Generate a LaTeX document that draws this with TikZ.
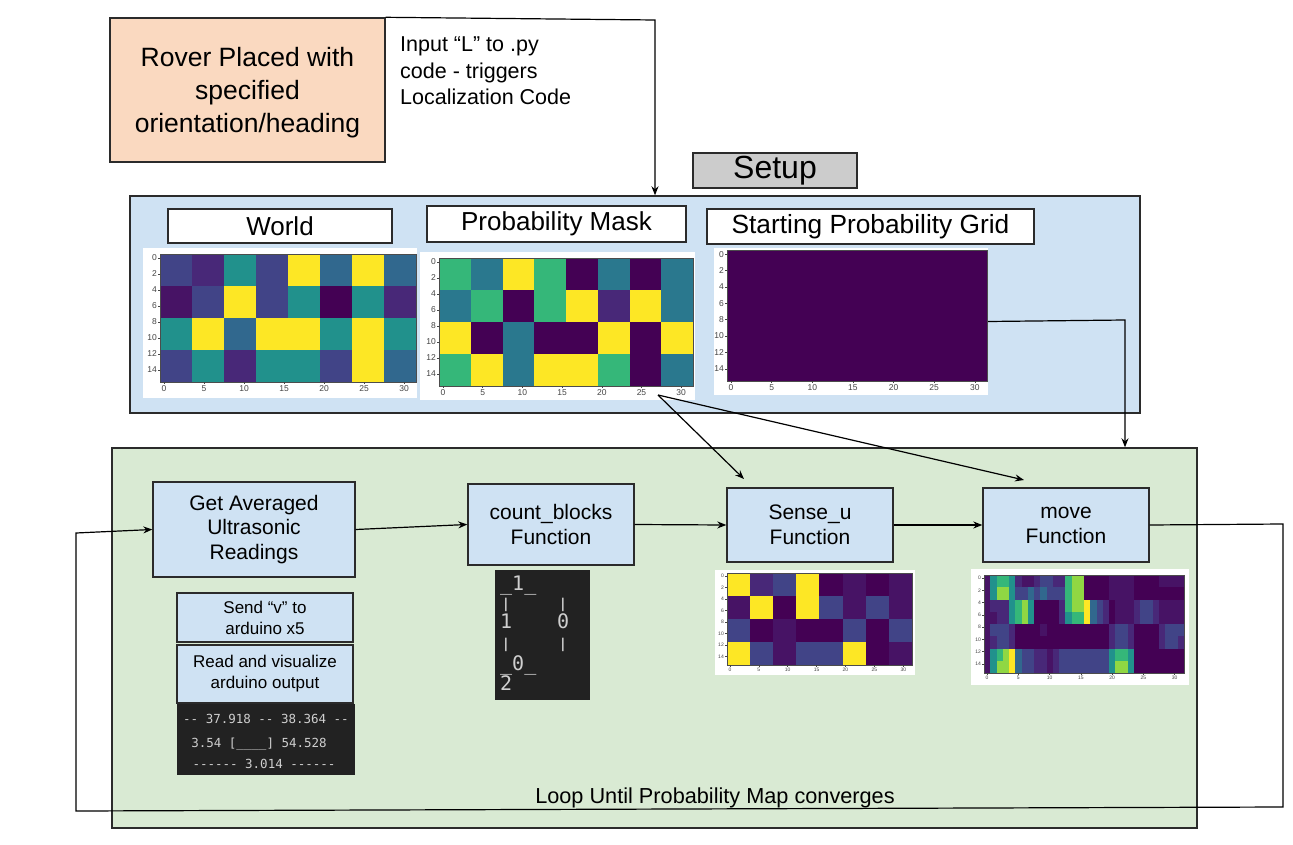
\documentclass[tikz,border=0pt]{standalone}
\usepackage{fontspec}
\setmainfont{Liberation Sans}
\newfontfamily\monofont{DejaVu Sans Mono}
\usetikzlibrary{arrows.meta}
\definecolor{vA}{HTML}{440154}
\definecolor{vB}{HTML}{471365}
\definecolor{vC}{HTML}{482878}
\definecolor{vD}{HTML}{414487}
\definecolor{vE}{HTML}{31688E}
\definecolor{vT}{HTML}{2A788E}
\definecolor{vF}{HTML}{21918C}
\definecolor{vG}{HTML}{35B779}
\definecolor{vH}{HTML}{90D743}
\definecolor{vY}{HTML}{FDE725}
\definecolor{peach}{HTML}{FAD9C0}
\definecolor{bluebg}{HTML}{CFE2F3}
\definecolor{greenbg}{HTML}{D9EAD3}
\definecolor{setupgray}{HTML}{CCCCCC}
\definecolor{bordc}{HTML}{2B2B2B}
\definecolor{termbg}{HTML}{222222}
\definecolor{termtxt}{HTML}{CFCFCF}
\definecolor{tickc}{HTML}{444444}
\newcommand\fsz[2]{\fontsize{#1}{#2}\selectfont}
\newcommand\us{\char"5F\relax}
% heat map: x0, y0, unit x, unit y, cell units wide, cell units tall, rows
\newcommand\hmap[7]{%
  \foreach \row [count=\j from 0] in {#7}{%
    \foreach \cc [count=\i from 0] in \row {%
      \edef\hcol{v\cc}%
      \fill[fill=\hcol] ({#1+\i*#5*#3},{#2+\j*#6*#4}) rectangle ++({#5*#3+0.3},{#6*#4+0.3});
    }%
  }%
  \draw[line width=0.4pt, black!70] (#1,#2) rectangle ++({32*#3},{16*#4});
}
% ticks: prefix, x0, y0, unit x, unit y, font size
\newcommand\hticks[6]{%
  \foreach \tk in {0,2,...,14}{%
    \draw[tickc, line width=0.4pt] ({#2},{#3+(\tk+0.5)*#5}) -- ++(-2,0);
    \node[tickc, font=\fsz{#6}{#6}, anchor=east, inner sep=0.5pt] (#1y\tk) at ({#2-2.5},{#3+(\tk+0.5)*#5}) {\tk};
  }%
  \foreach \tk in {0,5,...,30}{%
    \draw[tickc, line width=0.4pt] ({#2+(\tk+0.5)*#4},{#3+16*#5}) -- ++(0,2);
    \node[tickc, font=\fsz{#6}{#6}, anchor=north, inner sep=0.5pt] (#1x\tk) at ({#2+(\tk+0.5)*#4},{#3+16*#5+2.5}) {\tk};
  }%
}
\begin{document}
\begin{tikzpicture}[x=1pt,y=-1pt,
  box/.style={draw=bordc, line width=1.4pt, inner sep=0pt, align=center},
  imgbg/.style={fill=white, inner sep=0pt},
  arr/.style={-{Stealth[length=9pt,width=7pt]}, line width=1.2pt, black},
  term/.style={fill=termbg, inner sep=0pt},
  ttxt/.style={termtxt, inner sep=0pt, font=\monofont\fsz{20}{20}},
  tbar/.style={termtxt, inner sep=0pt, font=\monofont\bfseries\fsz{13.5}{14}},
  atxt/.style={termtxt, inner sep=0pt, font=\monofont\fsz{12.5}{14}, anchor=base}]
\useasboundingbox[fill=white] (0,0) rectangle (1293,845);

% ---------- top ----------
\node[box, fill=peach, minimum width=275, minimum height=144] (rover) at (247.5,90) {};
\node[align=center, inner sep=0pt, font=\fsz{26.5}{33}] (rovertxt) at (247.5,93) {Rover Placed with\\specified\\orientation/heading};
\node[anchor=north west, align=left, inner sep=0pt, font=\fsz{21.5}{26.5}] (input) at (400,37) {Input “L” to .py\\code - triggers\\Localization Code};
\node[box, fill=setupgray, minimum width=164, minimum height=35, font=\fsz{32}{36}] (setup) at (775,170.5) {Setup};

% ---------- setup panel ----------
\node[box, fill=bluebg, minimum width=1010, minimum height=217] (setupbox) at (635,304.5) {};
\node[box, fill=white, minimum width=224, minimum height=34, font=\fsz{26}{30}] (worldt) at (280,226) {World};
\node[box, fill=white, minimum width=259, minimum height=36, font=\fsz{26}{30}] (maskt) at (556.5,224) {Probability Mask};
\node[box, fill=white, minimum width=327, minimum height=35, font=\fsz{26.3}{30}] (startt) at (870.5,226.5) {Starting Probability Grid};

\node[imgbg, minimum width=274, minimum height=150] (worldimg) at (280,323) {};
\node[imgbg, minimum width=275, minimum height=148] (maskimg) at (557.5,326) {};
\node[imgbg, minimum width=274, minimum height=147] (startimg) at (851,321.5) {};

\hmap{160}{254}{8}{8}{4}{4}{{D,C,F,D,Y,E,Y,E},{B,D,Y,D,F,A,F,C},{F,Y,E,Y,Y,F,Y,F},{D,F,C,F,F,D,Y,E}}
\hticks{w}{160}{254}{8}{8}{8.5}
\hmap{439}{258}{7.94}{8}{4}{4}{{G,T,Y,G,A,T,A,T},{T,G,A,G,Y,C,Y,T},{Y,A,T,A,A,Y,A,Y},{G,Y,T,Y,Y,G,A,T}}
\hticks{m}{439}{258}{7.94}{8}{8.5}
\hmap{727}{250}{8.125}{8.19}{32}{16}{{A}}
\hticks{s}{727}{250}{8.125}{8.19}{8.5}

% ---------- loop panel ----------
\node[box, fill=greenbg, minimum width=1085, minimum height=380] (greenbox) at (654.5,638) {};
\node[box, fill=bluebg, minimum width=202, minimum height=95, font=\fsz{21}{24.5}] (ultra) at (254,529.5) {Get Averaged\\Ultrasonic\\Readings};
\node[box, fill=bluebg, minimum width=166, minimum height=81, font=\fsz{21}{25}] (count) at (551,524.5) {count\_blocks\\Function};
\node[box, fill=bluebg, minimum width=166, minimum height=74, font=\fsz{21}{25}] (sense) at (810,525) {Sense\_u\\Function};
\node[box, fill=bluebg, minimum width=166, minimum height=74, font=\fsz{21}{25}] (move) at (1066,525) {move\\Function};

\node[box, fill=bluebg, minimum width=176, minimum height=49, font=\fsz{17}{21}] (send) at (265,617.5) {Send “v” to\\arduino x5};
\node[box, fill=bluebg, minimum width=176, minimum height=58, font=\fsz{17}{21}] (read) at (265,674) {Read and visualize\\arduino output};
\node[term, minimum width=178, minimum height=71] (aterm) at (266,739.5) {};
\node[atxt] (a1) at (266,723) {-- 37.918 -- 38.364 --};
\node[atxt] (a2) at (259,747) {3.54 [\us\us\us\us] 54.528};
\node[atxt] (a3) at (264,768) {------ 3.014 ------};

\node[term, minimum width=95, minimum height=130] (cterm) at (542.5,635) {};
\node[ttxt, anchor=base west] (c1t) at (500,590) {\us1\us};
\node[tbar, anchor=base] (c2a) at (506,608) {|};
\node[tbar, anchor=base] (c2b) at (563,608) {|};
\node[ttxt, anchor=base west] (c3a) at (500,628) {1};
\node[ttxt, anchor=base west] (c3b) at (557,628) {0};
\node[tbar, anchor=base] (c4a) at (506,648) {|};
\node[tbar, anchor=base] (c4b) at (563,648) {|};
\node[ttxt, anchor=base west] (c5t) at (500,670) {\us0\us};
\node[ttxt, anchor=base west] (c6t) at (500,690) {2};

\node[imgbg, minimum width=200, minimum height=105] (senseimg) at (815,622.5) {};
\hmap{727}{573}{5.78}{5.75}{4}{4}{{Y,C,D,Y,A,B,A,B},{B,Y,A,Y,D,B,D,B},{D,A,B,A,A,D,A,D},{Y,D,B,D,D,Y,A,B}}
\hticks{u}{727}{573}{5.78}{5.75}{5}

\node[imgbg, minimum width=218, minimum height=116] (moveimg) at (1080,627) {};
\hmap{984}{575}{6.25}{6.125}{1}{2}{%
{B,F,G,G,F,C,B,B,C,D,D,C,C,G,H,H,A,A,A,A,B,B,B,B,A,A,A,A,B,B,B,B},%
{B,F,H,H,F,D,D,E,D,E,D,D,D,G,H,H,A,A,A,A,B,B,B,B,A,A,A,A,A,A,A,A},%
{B,C,C,C,F,G,H,F,A,A,A,A,C,G,H,H,Y,E,D,C,A,B,B,B,C,D,D,C,B,B,B,B},%
{B,B,C,C,F,G,H,F,A,A,A,A,C,F,G,G,Y,E,D,C,A,B,B,B,C,D,D,C,B,B,B,B},%
{B,D,D,D,C,A,A,A,A,B,A,A,A,A,A,A,A,A,A,A,C,D,D,C,A,A,A,A,C,D,D,D},%
{B,C,D,D,C,A,A,A,A,A,A,A,A,A,A,A,A,A,A,A,C,D,D,C,A,A,A,A,C,D,D,C},%
{B,F,G,H,Y,E,D,D,C,C,B,C,D,D,D,D,D,D,D,D,F,G,G,F,A,A,A,A,A,A,A,A},%
{B,F,H,H,Y,E,D,D,C,C,B,C,D,D,D,D,D,D,D,D,F,H,H,F,A,A,A,A,A,A,A,A}}
\hticks{v}{984}{575}{6.25}{6.125}{5}

\node[font=\fsz{21.7}{24}, anchor=base, inner sep=0pt] (looptxt) at (715,803) {Loop Until Probability Map converges};

% ---------- connectors ----------
\coordinate (k1) at (655,20);
\draw[arr] (rover.north east) -- (k1) -- (k1 |- setupbox.north);
\coordinate (k2) at (1125,320);
\draw[arr] (startimg.east) -- (k2) -- (k2 |- greenbox.north);
\coordinate (m0) at (658,395);
\coordinate (sensein) at (744,479);
\coordinate (movein) at (1024,480);
\draw[arr] (m0) -- (sensein);
\draw[arr] (m0) -- (movein);
\draw[arr] (ultra.east) -- (count.west);
\draw[arr] (count.east) -- (sense.west);
\draw[arr] (sense.east) -- (move.west);
\coordinate (l1) at (1283,524);
\coordinate (l2) at (1283,807);
\coordinate (l3) at (76,811);
\coordinate (l4) at (76,533);
\draw[arr] (move.east) -- (l1) -- (l2) -- (l3) -- (l4) -- (ultra.west);
\end{tikzpicture}
\end{document}
